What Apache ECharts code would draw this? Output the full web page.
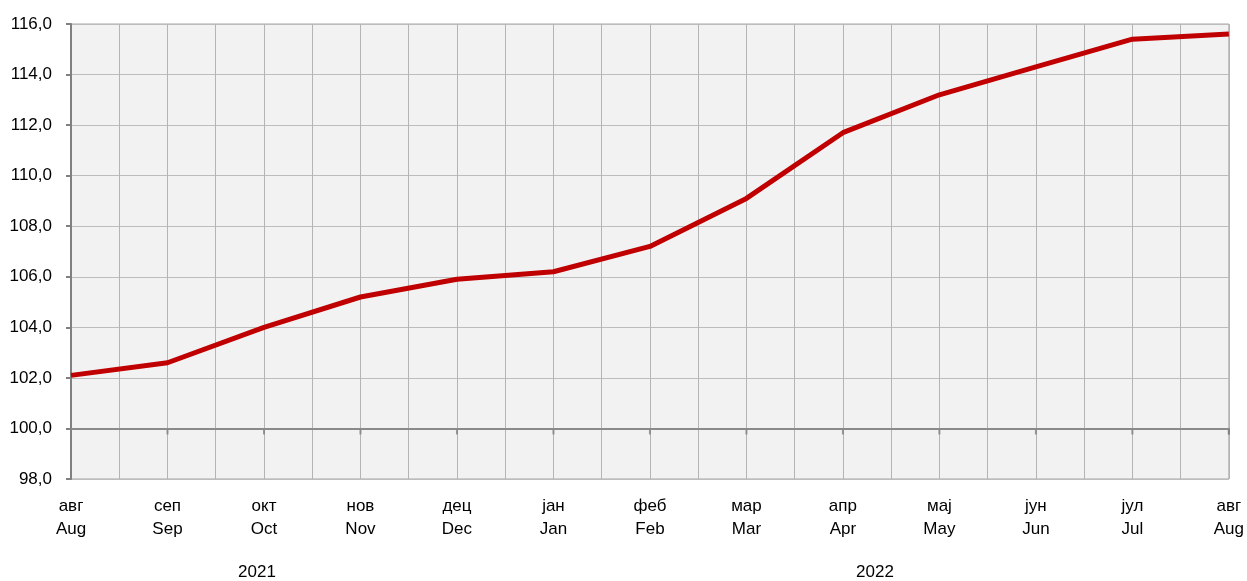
<!DOCTYPE html>
<html>
<head>
<meta charset="utf-8">
<script src="https://cdn.jsdelivr.net/npm/echarts@6/dist/echarts.min.js"></script>
<style>html,body{margin:0;padding:0;background:#fff}#c{width:1247px;height:581px}</style>
</head>
<body>
<div id="c"></div>
<script>
const categoriesCyr = ['авг','сеп','окт','нов','дец','јан','феб','мар','апр','мај','јун','јул','авг'];
const categoriesEng = ['Aug','Sep','Oct','Nov','Dec','Jan','Feb','Mar','Apr','May','Jun','Jul','Aug'];
const values = [102.1, 102.6, 104.0, 105.2, 105.9, 106.2, 107.2, 109.1, 111.7, 113.2, 114.3, 115.4, 115.6];
const yearLabels = ['2021', '2022'];
const yMin = 98, yMax = 116, yStep = 2;
const baseValue = 100;

const FONT = "'Liberation Sans Narrow', 'Liberation Sans', Arial, sans-serif";
const cats = categoriesCyr.map((c, i) => c + '\n' + categoriesEng[i]);

const chart = echarts.init(document.getElementById('c'), null, {renderer: 'canvas'});
chart.setOption({
  animation: false,
  backgroundColor: '#ffffff',
  grid: {left: 71, right: 16, top: 24, bottom: 102, show: true, backgroundColor: '#f2f2f2', borderColor: '#a6a6a6', borderWidth: 1},
  xAxis: [{
    type: 'category',
    data: cats,
    boundaryGap: false,
    axisLine: {show: false},
    axisTick: {show: false},
    splitLine: {show: false},
    axisLabel: {color: '#000', fontFamily: FONT, fontSize: 17, lineHeight: 23, margin: 16, interval: 0}
  }, {
    type: 'value',
    min: 0, max: (cats.length - 1) * 2, interval: 1,
    position: 'top',
    axisLine: {show: false}, axisTick: {show: false}, axisLabel: {show: false},
    splitLine: {show: true, lineStyle: {color: '#b4b4b4', width: 1}}
  }],
  yAxis: {
    type: 'value', min: yMin, max: yMax, interval: yStep,
    axisLine: {show: true, lineStyle: {color: '#808080', width: 2}},
    axisTick: {show: true, length: 5, lineStyle: {color: '#808080', width: 2}},
    splitLine: {show: true, lineStyle: {color: '#bcbcbc', width: 1}},
    axisLabel: {color: '#000', fontFamily: FONT, fontSize: 17, margin: 19,
      formatter: v => v.toFixed(1).replace('.', ',')}
  },
  series: [{
    type: 'scatter',
    data: cats.map(c => [c, baseValue]),
    symbol: 'rect', symbolSize: [2, 6], symbolOffset: [0, 3],
    itemStyle: {color: '#808080'},
    silent: true, z: 3,
    markLine: {
      silent: true, symbol: ['none', 'none'], label: {show: false},
      lineStyle: {color: '#8a8a8a', width: 2, type: 'solid'},
      data: [{yAxis: baseValue}]
    }
  }, {
    type: 'line',
    data: values,
    symbol: 'none',
    lineStyle: {color: '#c00000', width: 5},
    z: 5
  }],
  graphic: [
    {type: 'text', x: 257, y: 572, style: {text: yearLabels[0], fill: '#000', font: '17px ' + FONT, textAlign: 'center', textVerticalAlign: 'middle'}},
    {type: 'text', x: 875, y: 572, style: {text: yearLabels[1], fill: '#000', font: '17px ' + FONT, textAlign: 'center', textVerticalAlign: 'middle'}}
  ]
});
</script>
</body>
</html>
